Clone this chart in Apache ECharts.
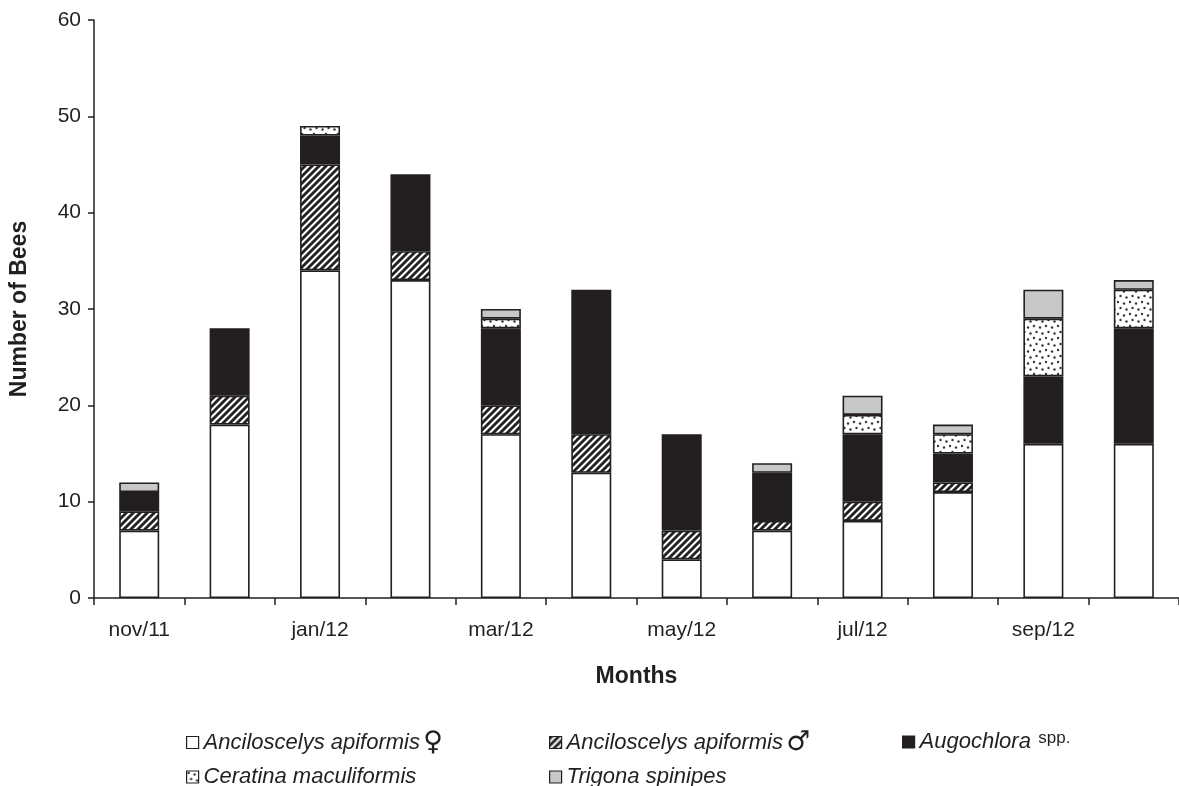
<!DOCTYPE html>
<html>
<head>
<meta charset="utf-8">
<script src="https://cdn.jsdelivr.net/npm/echarts@6/dist/echarts.min.js"></script>
<style>
  html, body { margin: 0; padding: 0; background: #fff; }
  #chart { width: 1179px; height: 786px; }
</style>
</head>
<body>
<div id="chart"></div>
<script>
// Monthly bee counts, stacked by taxon
const months = ['nov/11', 'dec/11', 'jan/12', 'feb/12', 'mar/12', 'apr/12',
                'may/12', 'jun/12', 'jul/12', 'aug/12', 'sep/12', 'oct/12'];
const ancFemale  = [7, 18, 34, 33, 17, 13, 4, 7, 8, 11, 16, 16];
const ancMale    = [2, 3, 11, 3, 3, 4, 3, 1, 2, 1, 0, 0];
const augochlora = [2, 7, 3, 8, 8, 15, 10, 5, 7, 3, 7, 12];
const ceratina   = [0, 0, 1, 0, 1, 0, 0, 0, 2, 2, 6, 4];
const trigona    = [1, 0, 0, 0, 1, 0, 0, 1, 2, 1, 3, 1];
const yTicks = { min: 0, max: 60, interval: 10 };

const INK = '#231f20';
const FONT = '"Liberation Sans", Arial, sans-serif';

// Diagonal "/" hatch tile
function hatchTile() {
  const n = 7;
  const c = document.createElement('canvas');
  c.width = n; c.height = n;
  const ctx = c.getContext('2d');
  const img = ctx.createImageData(n, n);
  for (let y = 0; y < n; y++) {
    for (let x = 0; x < n; x++) {
      const d = (x + y) % n;
      let v = 255;
      if (d < 3) v = 35;
      else if (d === 3) v = 120;
      else if (d === n - 1) v = 160;
      const i = (y * n + x) * 4;
      img.data[i] = v; img.data[i + 1] = v; img.data[i + 2] = v; img.data[i + 3] = 255;
    }
  }
  ctx.putImageData(img, 0, 0);
  return c;
}

// Stippled tile with a few fixed dots
function dotTile() {
  const n = 12;
  const c = document.createElement('canvas');
  c.width = n; c.height = n;
  const ctx = c.getContext('2d');
  ctx.fillStyle = '#fff';
  ctx.fillRect(0, 0, n, n);
  ctx.fillStyle = '#3a3536';
  const pts = [[2, 2], [8, 3.5], [4.5, 8], [10.5, 9.5]];
  pts.forEach(p => {
    ctx.beginPath();
    ctx.arc(p[0], p[1], 1.2, 0, Math.PI * 2);
    ctx.fill();
  });
  return c;
}

const hatch = { image: hatchTile(), repeat: 'repeat' };
const dots = { image: dotTile(), repeat: 'repeat' };

const seriesDefs = [
  { name: 'female',     data: ancFemale,  color: '#ffffff' },
  { name: 'male',       data: ancMale,    color: hatch },
  { name: 'augochlora', data: augochlora, color: INK },
  { name: 'ceratina',   data: ceratina,   color: dots },
  { name: 'trigona',    data: trigona,    color: '#c6c7c8' }
];

const legendText = {
  female: '{i|Anciloscelys apiformis} {sym|♀}',
  male: '{i|Anciloscelys apiformis} {sym|♂}',
  augochlora: '{i|Augochlora} {sp|spp.}',
  ceratina: '{i|Ceratina maculiformis}',
  trigona: '{i|Trigona spinipes}'
};

const legendRich = {
  i: { fontFamily: FONT, fontStyle: 'italic', fontSize: 22, color: INK, lineHeight: 26 },
  sym: { fontFamily: '"DejaVu Sans", sans-serif', fontSize: 27, color: INK, lineHeight: 26 },
  sp: { fontFamily: FONT, fontSize: 17, color: INK, lineHeight: 26, padding: [0, 0, 8, 4] }
};

// One legend block per entry so the entries line up in columns
function legendAt(left, top, name) {
  return {
    orient: 'horizontal',
    left: left,
    top: top,
    padding: 0,
    itemWidth: 12,
    itemHeight: 12,
    itemGap: 10,
    icon: 'rect',
    selectedMode: false,
    data: [name],
    itemStyle: { borderColor: INK, borderWidth: 1.2 },
    formatter: n => legendText[n],
    textStyle: { rich: legendRich, lineHeight: 26 }
  };
}

const chart = echarts.init(document.getElementById('chart'), null, { renderer: 'canvas' });

chart.setOption({
  backgroundColor: '#ffffff',
  animation: false,
  grid: { left: 93, right: 0, top: 20, bottom: 188, containLabel: false },
  legend: [
    legendAt(186, 729, 'female'),
    legendAt(186, 764, 'ceratina'),
    legendAt(549, 729, 'male'),
    legendAt(549, 764, 'trigona'),
    legendAt(902, 729, 'augochlora')
  ],
  xAxis: {
    type: 'category',
    data: months,
    boundaryGap: true,
    name: 'Months',
    nameLocation: 'middle',
    nameGap: 67,
    nameTextStyle: { fontFamily: FONT, fontWeight: 'bold', fontSize: 23, color: INK },
    axisLine: { lineStyle: { color: INK, width: 1.5 } },
    axisTick: { show: true, interval: 0, length: 7, inside: false, lineStyle: { color: INK, width: 1.5 } },
    axisLabel: { interval: 1, margin: 22, fontFamily: FONT, fontSize: 21, color: INK }
  },
  yAxis: {
    type: 'value',
    min: yTicks.min,
    max: yTicks.max,
    interval: yTicks.interval,
    name: 'Number of Bees',
    nameLocation: 'middle',
    nameGap: 63,
    nameRotate: 90,
    nameTextStyle: { fontFamily: FONT, fontWeight: 'bold', fontSize: 23, color: INK },
    splitLine: { show: false },
    axisLine: { show: true, lineStyle: { color: INK, width: 1.5 } },
    axisTick: { show: true, length: 6, inside: false, lineStyle: { color: INK, width: 1.5 } },
    axisLabel: { margin: 13, fontFamily: FONT, fontSize: 21, color: INK }
  },
  series: seriesDefs.map(s => ({
    name: s.name,
    type: 'bar',
    stack: 'bees',
    barWidth: 40,
    data: s.data.map(v => (v === 0 ? '-' : v)),
    itemStyle: { color: s.color, borderColor: INK, borderWidth: 1.6 },
    emphasis: { disabled: true }
  }))
});
</script>
</body>
</html>
